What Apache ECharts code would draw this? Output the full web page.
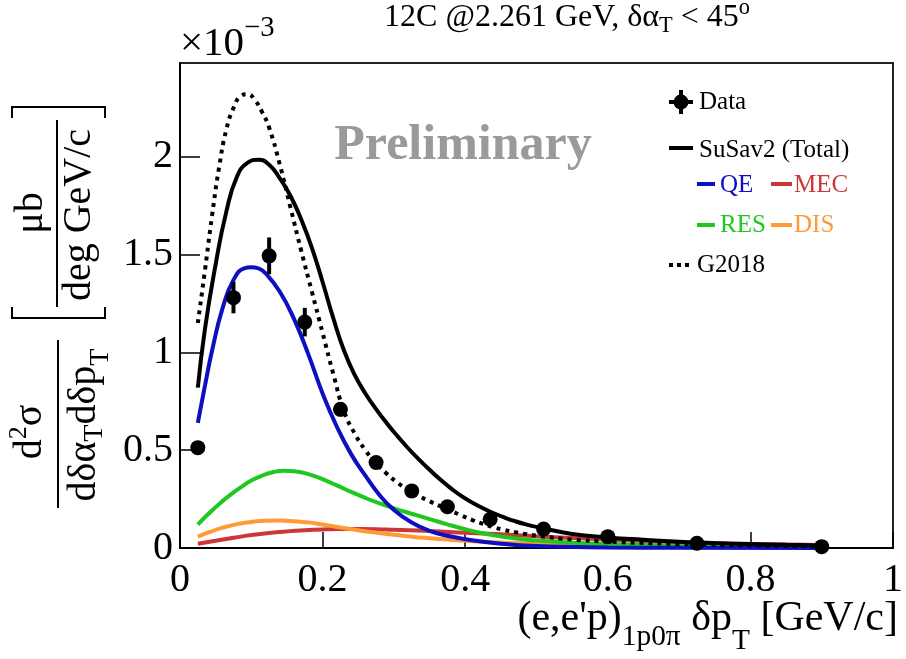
<!DOCTYPE html>
<html>
<head>
<meta charset="utf-8">
<script src="https://cdn.jsdelivr.net/npm/echarts@6/dist/echarts.min.js"></script>
<style>
  html, body { margin: 0; padding: 0; background: #fff; }
  #chart { width: 906px; height: 659px; }
</style>
</head>
<body>
<div id="chart"></div>
<script>
// Measured cross section, (e,e'p) 1p0pi, delta alpha_T < 45 deg (units of 1e-3)
const dataX   = [0.025, 0.075, 0.125, 0.175, 0.225, 0.275, 0.325, 0.375, 0.435, 0.51, 0.6, 0.725, 0.9];
const dataY   = [0.513, 1.28, 1.494, 1.155, 0.709, 0.437, 0.292, 0.211, 0.147, 0.097, 0.058, 0.024, 0.007];
const dataErr = [0.02, 0.08, 0.094, 0.073, 0.035, 0.025, 0.02, 0.015, 0.012, 0.009, 0.006, 0.004, 0.003];

// SuSav2 total prediction
const susav2Total = [
  [0.025, 0.82], [0.035, 1.12], [0.05, 1.45], [0.065, 1.72], [0.08, 1.90], [0.095, 1.97],
  [0.11, 1.985], [0.125, 1.96], [0.14, 1.89], [0.155, 1.80], [0.17, 1.68], [0.185, 1.535],
  [0.2, 1.36], [0.215, 1.175], [0.23, 1.01], [0.245, 0.885], [0.26, 0.79], [0.275, 0.71],
  [0.29, 0.638], [0.305, 0.572], [0.32, 0.51], [0.335, 0.453], [0.35, 0.40], [0.365, 0.35],
  [0.38, 0.305], [0.395, 0.265], [0.41, 0.232], [0.425, 0.203], [0.44, 0.178], [0.455, 0.156],
  [0.47, 0.137], [0.485, 0.121], [0.5, 0.108], [0.55, 0.072], [0.6, 0.054], [0.65, 0.042],
  [0.7, 0.032], [0.75, 0.025], [0.8, 0.02], [0.85, 0.016], [0.9, 0.013]
];
// SuSav2 components
const susav2QE = [
  [0.025, 0.64], [0.035, 0.83], [0.045, 1.01], [0.06, 1.23], [0.075, 1.37], [0.09, 1.43],
  [0.1, 1.435], [0.11, 1.43], [0.12, 1.405], [0.14, 1.31], [0.16, 1.17], [0.18, 0.99],
  [0.2, 0.79], [0.22, 0.62], [0.24, 0.48], [0.26, 0.37], [0.28, 0.27], [0.3, 0.195],
  [0.325, 0.13], [0.35, 0.088], [0.375, 0.063], [0.4, 0.045], [0.45, 0.022], [0.5, 0.01],
  [0.6, 0.003], [0.7, 0.001], [0.9, 0.0005]
];
const susav2MEC = [
  [0.025, 0.022], [0.05, 0.037], [0.075, 0.052], [0.1, 0.066], [0.125, 0.077], [0.15, 0.085],
  [0.175, 0.091], [0.2, 0.095], [0.225, 0.097], [0.25, 0.097], [0.275, 0.096], [0.3, 0.093],
  [0.35, 0.087], [0.4, 0.078], [0.45, 0.07], [0.5, 0.06], [0.55, 0.051], [0.6, 0.043],
  [0.7, 0.03], [0.8, 0.021], [0.9, 0.015]
];
const susav2RES = [
  [0.025, 0.12], [0.04, 0.175], [0.055, 0.225], [0.07, 0.27], [0.085, 0.31], [0.1, 0.345],
  [0.115, 0.37], [0.13, 0.387], [0.145, 0.395], [0.16, 0.393], [0.18, 0.378], [0.2, 0.352],
  [0.22, 0.32], [0.24, 0.287], [0.26, 0.256], [0.28, 0.228], [0.3, 0.203], [0.325, 0.175],
  [0.35, 0.148], [0.375, 0.121], [0.4, 0.096], [0.425, 0.075], [0.45, 0.059], [0.475, 0.047],
  [0.5, 0.038], [0.55, 0.027], [0.6, 0.02], [0.7, 0.012], [0.8, 0.008], [0.9, 0.005]
];
const susav2DIS = [
  [0.025, 0.058], [0.04, 0.08], [0.06, 0.104], [0.08, 0.122], [0.1, 0.133], [0.12, 0.139],
  [0.14, 0.14], [0.16, 0.137], [0.18, 0.131], [0.2, 0.12], [0.225, 0.105], [0.25, 0.091],
  [0.275, 0.079], [0.3, 0.068], [0.325, 0.058], [0.35, 0.05], [0.375, 0.043], [0.4, 0.037],
  [0.45, 0.028], [0.5, 0.022], [0.6, 0.015], [0.7, 0.011], [0.8, 0.009], [0.9, 0.008]
];
// GENIE G2018 prediction
const g2018 = [
  [0.025, 1.15], [0.035, 1.42], [0.045, 1.70], [0.055, 1.95], [0.065, 2.14], [0.075, 2.25],
  [0.085, 2.31], [0.095, 2.32], [0.105, 2.29], [0.115, 2.23], [0.125, 2.15], [0.14, 1.96],
  [0.155, 1.74], [0.17, 1.52], [0.185, 1.31], [0.2, 1.10], [0.215, 0.89], [0.23, 0.70],
  [0.245, 0.585], [0.26, 0.50], [0.275, 0.435], [0.29, 0.38], [0.305, 0.334], [0.32, 0.297],
  [0.335, 0.266], [0.35, 0.239], [0.365, 0.214], [0.38, 0.19], [0.395, 0.166], [0.41, 0.143],
  [0.425, 0.123], [0.44, 0.106], [0.455, 0.092], [0.47, 0.081], [0.485, 0.071], [0.5, 0.063],
  [0.55, 0.043], [0.6, 0.033], [0.7, 0.02], [0.8, 0.013], [0.9, 0.009]
];

const xTicks = [0, 0.2, 0.4, 0.6, 0.8, 1];
const yTicks = [0, 0.5, 1, 1.5, 2];

const COLORS = { qe: '#0e0ec2', mec: '#cc3636', res: '#1fc81f', dis: '#ff9a36' };
const FONT = '"Liberation Serif", "Times New Roman", serif';

// --- text helpers: lines made of normal / sub / superscript pieces ---
const mctx = document.createElement('canvas').getContext('2d');
function textWidth(t, size, weight) {
  mctx.font = (weight || 'normal') + ' ' + size + 'px ' + FONT;
  return mctx.measureText(t).width;
}
function textEl(t, x, y, size, fill, opts) {
  opts = opts || {};
  const weight = opts.weight || 'normal';
  const align = opts.align || 'left';
  return {
    type: 'text', x: x, y: y, silent: true,
    style: {
      text: t, fill: fill,
      font: weight + ' ' + size + 'px ' + FONT,
      fontSize: size, fontFamily: FONT, fontWeight: weight,
      align: align, textAlign: align,
      verticalAlign: 'middle', textVerticalAlign: 'middle'
    }
  };
}
// parts: [{t, scale, dy}], baseline at y
function richLine(parts, x, y, size, fill, align, weight) {
  const pieces = parts.map(p => {
    const s = size * (p.scale || 1);
    return { p: p, s: s, w: textWidth(p.t, s, weight) };
  });
  const total = pieces.reduce((a, q) => a + q.w, 0);
  let cx = align === 'center' ? x - total / 2 : (align === 'right' ? x - total : x);
  const out = [];
  pieces.forEach(q => {
    out.push(textEl(q.p.t, cx, y + (q.p.dy || 0) - 0.34 * q.s, q.s, q.p.fill || fill, { weight: weight }));
    cx += q.w;
  });
  return out;
}
function seg(x1, y1, x2, y2, color, w, dash) {
  return {
    type: 'line', silent: true,
    shape: { x1: x1, y1: y1, x2: x2, y2: y2 },
    style: { stroke: color, lineWidth: w, lineDash: dash || null }
  };
}

// --- titles, legend, annotations ---
const graphics = [];

// plot title
graphics.push(...richLine([
  { t: '12C @2.261 GeV, δα' }, { t: 'T', scale: 0.7, dy: 6 }, { t: ' < 45' }, { t: 'o', scale: 0.7, dy: -12 }
], 567, 28, 32, '#000', 'center'));

// exponent of the y axis
graphics.push(...richLine([
  { t: '×10' }, { t: '−3', scale: 0.7, dy: -20 }
], 180, 58, 41, '#000', 'left'));

// x axis title
graphics.push(...richLine([
  { t: "(e,e'p)" }, { t: '1p0π', scale: 0.7, dy: 14 }, { t: ' δp' }, { t: 'T', scale: 0.7, dy: 18 }, { t: ' [GeV/c]' }
], 898, 633, 42, '#000', 'right'));

// y axis title, rotated to read upwards (local x = -screen y, local y = screen x)
const yTitle = [];
yTitle.push(...richLine([{ t: 'd' }, { t: '2', scale: 0.65, dy: -16 }, { t: 'σ' }], -432, 44, 40, '#000', 'center'));
yTitle.push(seg(-508, 58, -340, 58, '#000', 2));
yTitle.push(...richLine([
  { t: 'dδα' }, { t: 'T', scale: 0.7, dy: 6 }, { t: 'dδp' }, { t: 'T', scale: 0.7, dy: 12 }
], -425, 98, 40, '#000', 'center'));
yTitle.push(...richLine([{ t: 'μb' }], -213, 45, 40, '#000', 'center'));
yTitle.push(seg(-307, 57, -120, 57, '#000', 2));
yTitle.push(...richLine([{ t: 'deg GeV/c' }], -215, 93, 40, '#000', 'center'));
graphics.push({ type: 'group', x: 0, y: 0, rotation: Math.PI / 2, children: yTitle });
// square brackets around the unit fraction
graphics.push({
  type: 'polyline', silent: true,
  shape: { points: [[12, 307], [12, 318], [105, 318], [105, 307]] },
  style: { stroke: '#000', lineWidth: 2, fill: null }
});
graphics.push({
  type: 'polyline', silent: true,
  shape: { points: [[12, 118], [12, 107], [105, 107], [105, 118]] },
  style: { stroke: '#000', lineWidth: 2, fill: null }
});

// watermark
graphics.push(textEl('Preliminary', 463, 146, 50, '#9a9a9a', { weight: 'bold', align: 'center' }));

// legend
graphics.push(seg(681, 90, 681, 114, '#000', 4));
graphics.push(seg(669, 102, 693, 102, '#000', 4));
graphics.push({ type: 'circle', silent: true, shape: { cx: 681, cy: 102, r: 7.5 }, style: { fill: '#000' } });
graphics.push(textEl('Data', 699, 102, 25, '#000'));
graphics.push(seg(669, 148, 693, 148, '#000', 4));
graphics.push(textEl('SuSav2 (Total)', 699, 150, 25, '#000'));
graphics.push(seg(697, 184, 715, 184, COLORS.qe, 4));
graphics.push(textEl('QE', 720, 185, 25, COLORS.qe));
graphics.push(seg(771, 184, 792, 184, COLORS.mec, 4));
graphics.push(textEl('MEC', 794, 185, 25, COLORS.mec));
graphics.push(seg(697, 225, 715, 225, COLORS.res, 4));
graphics.push(textEl('RES', 720, 225, 25, COLORS.res));
graphics.push(seg(771, 225, 792, 225, COLORS.dis, 4));
graphics.push(textEl('DIS', 794, 225, 25, COLORS.dis));
graphics.push(seg(669, 265, 693, 265, '#000', 4, [4, 4]));
graphics.push(textEl('G2018', 697, 265, 25, '#000'));

function curve(name, data, color, dash, z) {
  return {
    name: name, type: 'line', data: data, smooth: 0.5, showSymbol: false,
    silent: true, z: z || 2,
    lineStyle: { color: color, width: 4, type: dash || 'solid' }
  };
}

const chart = echarts.init(document.getElementById('chart'), null, { renderer: 'canvas' });
chart.setOption({
  animation: false,
  backgroundColor: '#fff',
  grid: {
    left: 180, right: 9, top: 63, bottom: 111,
    show: true, borderColor: '#222', borderWidth: 2, backgroundColor: 'transparent'
  },
  xAxis: {
    type: 'value', min: 0, max: 1, interval: 0.2,
    axisLine: { onZero: false, lineStyle: { color: '#000', width: 2 } },
    axisTick: { inside: true, length: 16, lineStyle: { color: '#000', width: 1.5 }, customValues: xTicks },
    axisLabel: {
      customValues: xTicks, margin: 12, color: '#000', fontFamily: FONT, fontSize: 40,
      formatter: v => String(+(+v).toFixed(1))
    },
    splitLine: { show: false }
  },
  yAxis: {
    type: 'value', min: 0, max: 2.48,
    axisLine: { onZero: false, lineStyle: { color: '#000', width: 2 } },
    axisTick: { inside: true, length: 20, lineStyle: { color: '#000', width: 1.5 }, customValues: yTicks },
    axisLabel: {
      customValues: yTicks, margin: 7, color: '#000', fontFamily: FONT, fontSize: 40,
      formatter: v => String(+(+v).toFixed(1))
    },
    splitLine: { show: false }
  },
  series: [
    curve('MEC', susav2MEC, COLORS.mec, 'solid', 2),
    curve('DIS', susav2DIS, COLORS.dis, 'solid', 2),
    curve('RES', susav2RES, COLORS.res, 'solid', 2),
    curve('QE', susav2QE, COLORS.qe, 'solid', 3),
    curve('SuSav2 (Total)', susav2Total, '#000', 'solid', 4),
    curve('G2018', g2018, '#000', [4, 5], 4),
    {
      name: 'Data errors', type: 'custom', z: 6, silent: true,
      data: dataX.map((x, i) => [x, dataY[i], dataErr[i]]),
      renderItem: function (params, api) {
        const x = api.value(0), y = api.value(1), e = api.value(2);
        const a = api.coord([x, y + e]);
        const b = api.coord([x, y - e]);
        return {
          type: 'line',
          shape: { x1: a[0], y1: a[1], x2: b[0], y2: b[1] },
          style: { stroke: '#000', lineWidth: 4 }
        };
      }
    },
    {
      name: 'Data', type: 'scatter', z: 7, silent: true,
      data: dataX.map((x, i) => [x, dataY[i]]),
      symbol: 'circle', symbolSize: 15,
      itemStyle: { color: '#000', opacity: 1 }
    }
  ],
  graphic: { elements: graphics }
});
</script>
</body>
</html>
